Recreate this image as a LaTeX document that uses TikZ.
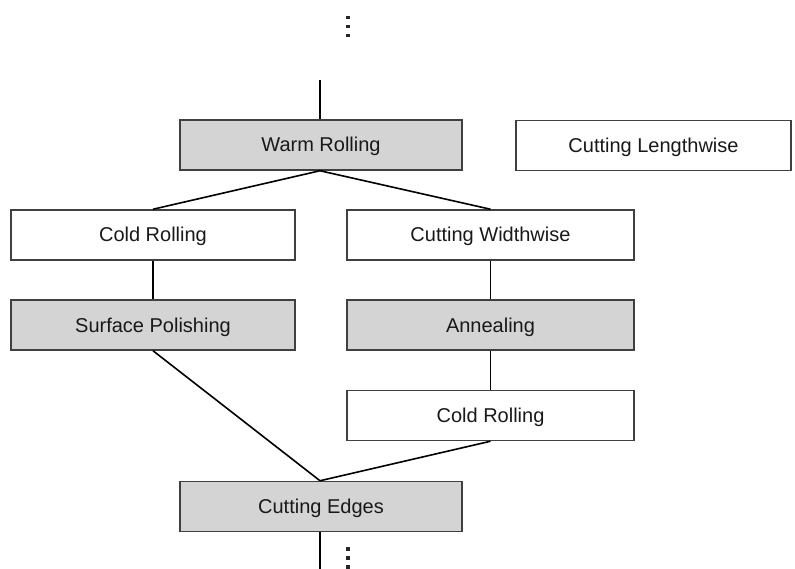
\documentclass[tikz,border=0pt]{standalone}
\usepackage{fontspec}
\setmainfont{Liberation Sans}
\begin{document}
\begin{tikzpicture}[x=1pt,y=-1pt,
  stage/.style={draw=black!75, line width=1.5pt, minimum height=50pt,
    inner sep=0pt, text height=14pt, text depth=0pt,
    font=\fontsize{20}{23}\selectfont, text=black!90},
  hot/.style={stage, fill=black!17},
  cold/.style={stage, fill=white},
  link/.style={line width=1.6pt, black},
  dot/.style={fill=black!85}]
\useasboundingbox (0,0) rectangle (795,569);

% process stages
\node[hot,  minimum width=282pt] (warm)   at (321,145)   {Warm Rolling};
\node[cold, minimum width=275pt] (length) at (653.5,145.5) {Cutting Lengthwise};
\node[cold, minimum width=284pt] (coldA)  at (153,235)   {Cold Rolling};
\node[cold, minimum width=287pt] (width)  at (490.5,235) {Cutting Widthwise};
\node[hot,  minimum width=284pt] (polish) at (153,325)   {Surface Polishing};
\node[hot,  minimum width=287pt] (anneal) at (490.5,325) {Annealing};
\node[cold, minimum width=287pt] (coldB)  at (490.5,415.5) {Cold Rolling};
\node[hot,  minimum width=282pt] (edges)  at (321,506.5) {Cutting Edges};

% free ends of the flow
\coordinate (in)  at (320,80);
\coordinate (out) at (320,569);

% connectors
\draw[link] (in) -- (warm.north -| in);
\draw[link] (warm.south -| in) -- (coldA.north);
\draw[link] (warm.south -| in) -- (width.north);
\draw[link] (coldA) -- (polish);
\draw[link] (width) -- (anneal);
\draw[link] (anneal) -- (coldB);
\draw[link] (polish.south) -- (edges.north -| in);
\draw[link] (coldB.south) -- (edges.north -| in);
\draw[link] (edges.south -| out) -- (out);

% continuation marks
\foreach \y in {16,25,34} \fill[dot] (346,\y) rectangle ++(3.5,3.5);
\foreach \y in {547,556,565} \fill[dot] (346,\y) rectangle ++(3.5,3.5);
\end{tikzpicture}
\end{document}
